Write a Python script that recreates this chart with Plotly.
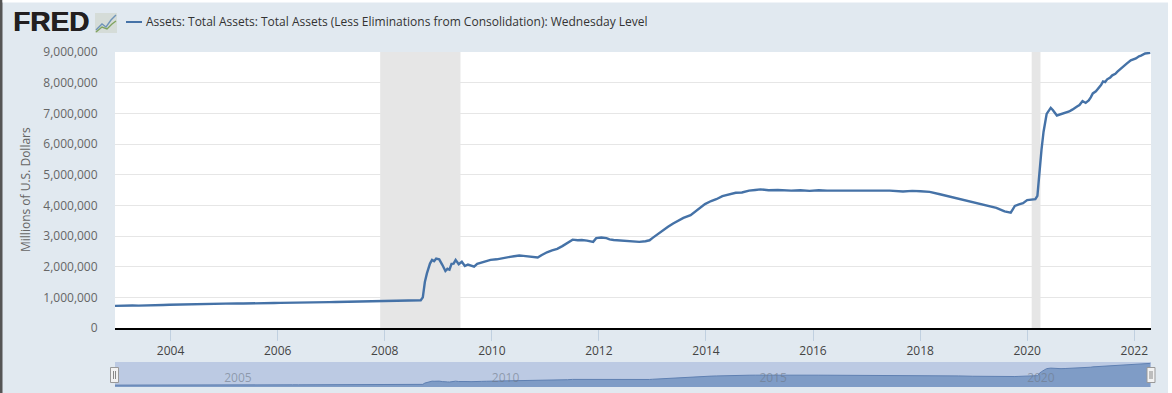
import plotly.graph_objects as go

dates = ["2002-12-18","2003-01-22","2003-03-05","2003-04-16","2003-05-28","2003-07-09","2003-08-20","2003-10-01","2003-11-12","2003-12-24",
"2004-02-04","2004-03-17","2004-04-28","2004-06-09","2004-07-21","2004-09-01","2004-10-13","2004-11-24",
"2005-01-05","2005-02-16","2005-03-30","2005-05-11","2005-06-22","2005-08-03","2005-09-14","2005-10-26","2005-12-07",
"2006-01-18","2006-03-01","2006-04-12","2006-05-24","2006-07-05","2006-08-16","2006-09-27","2006-11-08","2006-12-20",
"2007-01-31","2007-03-14","2007-04-25","2007-06-06","2007-07-18","2007-08-29","2007-10-10","2007-11-21",
"2008-01-02","2008-02-13","2008-03-26","2008-05-07","2008-06-18","2008-07-30","2008-09-03",
"2008-09-17","2008-10-01","2008-10-15","2008-11-05","2008-11-19","2008-12-03","2008-12-17","2009-01-07","2009-01-28",
"2009-02-18","2009-03-04","2009-03-18","2009-04-01","2009-04-15","2009-04-29","2009-05-20","2009-06-10","2009-07-01","2009-07-22",
"2009-08-12","2009-09-02","2009-09-23","2009-10-21","2009-11-25","2009-12-23","2010-02-03","2010-03-10","2010-04-07","2010-05-05","2010-06-02","2010-07-07","2010-08-04","2010-09-08","2010-10-06",
"2010-11-10","2010-12-08","2011-01-12","2011-02-16","2011-03-23","2011-04-27","2011-06-01","2011-07-06","2011-08-10","2011-09-07","2011-10-12","2011-11-23","2011-12-14",
"2012-01-18","2012-02-22","2012-03-14","2012-04-11","2012-05-23","2012-07-04","2012-08-08","2012-09-05","2012-10-03","2012-11-14","2012-12-12",
"2013-01-02","2013-02-06","2013-03-13","2013-04-17","2013-05-22","2013-06-26","2013-07-31","2013-09-18","2013-10-23","2013-12-25",
"2014-02-05","2014-03-12","2014-04-23","2014-06-04","2014-07-23","2014-09-03","2014-10-22","2014-12-03",
"2015-01-07","2015-03-04","2015-05-06","2015-08-05","2015-10-07","2015-12-09","2016-02-10","2016-04-06","2016-07-06","2016-09-07","2016-11-09",
"2017-01-11","2017-04-05","2017-06-07","2017-09-06","2017-11-08","2018-01-03","2018-03-07","2018-05-16","2018-07-18","2018-09-19","2018-12-26",
"2019-02-06","2019-04-03","2019-06-05","2019-07-31","2019-09-11","2019-09-25","2019-10-09","2019-11-06",
"2019-12-04","2020-01-01","2020-02-26","2020-03-11","2020-03-18","2020-03-25","2020-04-08","2020-04-22","2020-05-13",
"2020-06-10","2020-06-24","2020-07-22","2020-08-19","2020-09-16","2020-10-14","2020-11-04","2020-11-25","2020-12-09","2020-12-23","2021-01-13","2021-02-03",
"2021-02-24","2021-03-10","2021-03-24","2021-04-14","2021-05-05","2021-05-19","2021-06-02","2021-06-16","2021-06-30","2021-07-21","2021-08-04","2021-08-25","2021-09-08","2021-09-29","2021-10-20","2021-11-10","2021-12-08",
"2021-12-29","2022-01-12","2022-02-02","2022-02-16","2022-03-16","2022-04-20"]
assets = [720,728,726,735,731,742,746,741,750,756,
762,758,770,765,776,772,785,781,
790,795,802,798,806,803,812,809,816,
820,826,831,827,835,832,840,837,843,
846,851,848,856,853,861,866,871,
882,878,886,881,892,896,905,
1000,1500,1780,2100,2220,2180,2260,2240,2060,
1860,1930,1900,2090,2100,2220,2080,2160,2020,2070,
2030,2000,2090,2130,2190,2220,2240,2280,2310,2320,2340,2365,2350,2335,2310,
2300,2380,2470,2530,2580,2670,2770,2880,2860,2870,2850,2810,2930,
2950,2930,2890,2870,2860,2855,2840,2820,2810,2830,2860,
2940,3070,3200,3300,3410,3510,3590,3680,3800,4040,
4140,4200,4300,4360,4410,4420,4480,4500,
4520,4490,4500,4480,4490,4470,4490,4480,4480,4460,4470,
4460,4470,4480,4450,4470,4460,4440,4360,4290,4210,4090,
4040,3980,3920,3800,3760,3870,3980,4030,
4070,4170,4200,4310,4670,5250,5820,6400,6980,
7180,7110,6930,6970,7020,7060,7120,7170,7230,7270,7400,7340,
7420,7520,7650,7720,7840,7920,8040,8020,8110,8170,8240,8290,8360,8440,8510,8620,8730,
8760,8790,8860,8880,8950,8970]
assets = [v * 1000 for v in assets]

y_ticks = [0,1000000,2000000,3000000,4000000,5000000,6000000,7000000,8000000,9000000]
y_labels = ["0","1,000,000","2,000,000","3,000,000","4,000,000","5,000,000","6,000,000","7,000,000","8,000,000","9,000,000"]
x_ticks = ["%d-01-01" % y for y in range(2004, 2023, 2)]
x_labels = ["%d" % y for y in range(2004, 2023, 2)]
recessions = [("2007-12-01","2009-06-01"),("2020-02-01","2020-04-01")]
nav_ticks = ["2005-01-01","2010-01-01","2015-01-01","2020-01-01"]
nav_labels = ["2005","2010","2015","2020"]
series_name = "Assets: Total Assets: Total Assets (Less Eliminations from Consolidation): Wednesday Level"

W, H = 1172, 393
L, R, T, B = 115, 21, 52, 6
def px(x): return (x - L) / (W - L - R)
def py(y): return 1 - (y - T) / (H - T - B)
def rect(x0, y0, x1, y1, **kw):
    return dict(type="rect", xref="paper", yref="paper", x0=px(x0), x1=px(x1), y0=py(y0), y1=py(y1), **kw)
def line(x0, y0, x1, y1, color, width=1):
    return dict(type="line", xref="paper", yref="paper", x0=px(x0), x1=px(x1), y0=py(y0), y1=py(y1),
                line=dict(color=color, width=width))

FONT = "Open Sans"
fig = go.Figure()
fig.add_trace(go.Scatter(x=dates, y=assets, mode="lines", line=dict(color="#4572a7", width=2.4), hoverinfo="skip",
                         xaxis="x", yaxis="y", showlegend=False))
fig.add_trace(go.Scatter(x=dates, y=assets, mode="lines", fill="tozeroy", fillcolor="#7f9cc6",
                         line=dict(color="#5f80b2", width=1), hoverinfo="skip",
                         xaxis="x2", yaxis="y2", showlegend=False))
fig.add_trace(go.Scatter(x=nav_ticks, y=[3100000]*4, mode="text", text=nav_labels, textposition="middle right",
                         textfont=dict(family=FONT, size=12, color="rgba(110,120,135,0.6)"), hoverinfo="skip",
                         xaxis="x2", yaxis="y2", showlegend=False))

shapes = [
    rect(0, 0, 2.5, H, fillcolor="#555555", line_width=0, layer="below"),
    rect(2.5, 0, W, 2.5, fillcolor="#ffffff", line_width=0, layer="below"),
    rect(1168, 0, W, H, fillcolor="#ffffff", line_width=0, layer="below"),
    dict(type="rect", xref="x2 domain", yref="y2 domain", x0=0, x1=1, y0=0, y1=1,
         fillcolor="#bccae3", line_width=0, layer="below"),
    line(126, 22, 142, 22, "#4572a7", 2),
    rect(95, 13, 117, 33, fillcolor="#d5dcd8", line_width=0, layer="below"),
    dict(type="path", xref="paper", yref="paper", layer="above",
         path="M %f,%f L %f,%f L %f,%f L %f,%f L %f,%f" % (px(96),py(30),px(102),py(24),px(106),py(27),px(111),py(20),px(116),py(15)),
         line=dict(color="#6f94b8", width=1.4)),
    dict(type="path", xref="paper", yref="paper", layer="above",
         path="M %f,%f L %f,%f L %f,%f L %f,%f L %f,%f" % (px(96),py(32),px(102),py(27),px(107),py(29),px(112),py(24),px(116),py(21)),
         line=dict(color="#7fa35f", width=1.4)),
    rect(110.5, 367.5, 118.5, 382.5, fillcolor="#f2f2f2", line=dict(color="#999999", width=1), layer="above"),
    line(113.5, 371, 113.5, 379, "#888888"), line(115.5, 371, 115.5, 379, "#888888"),
    rect(1147, 367.5, 1155, 382.5, fillcolor="#f2f2f2", line=dict(color="#999999", width=1), layer="above"),
    line(1150, 371, 1150, 379, "#888888"), line(1152, 371, 1152, 379, "#888888"),
]
for a, b in recessions:
    shapes.append(dict(type="rect", xref="x", yref="y domain", x0=a, x1=b, y0=0, y1=1,
                       fillcolor="#e6e6e6", line_width=0, layer="below"))

annotations = [
    dict(text="<b>FRED</b>", xref="paper", yref="paper", x=px(11), y=py(22), xanchor="left", yanchor="middle",
         showarrow=False, font=dict(family="Liberation Sans", size=28, color="#231f20", shadow="0.6px 0 0 #231f20")),
    dict(text=series_name, xref="paper", yref="paper", x=px(144), y=py(22), xanchor="left", yanchor="middle",
         showarrow=False, font=dict(family=FONT, size=12, color="#333333")),
    dict(text="Millions of U.S. Dollars", xref="paper", yref="paper", x=px(25), y=py(190), textangle=-90,
         xanchor="center", yanchor="middle", showarrow=False, font=dict(family=FONT, size=12, color="#666666")),
]

fig.update_layout(
    width=W, height=H, autosize=False, margin=dict(l=L, r=R, t=T, b=B, pad=0, autoexpand=False),
    paper_bgcolor="#e1e9f0", plot_bgcolor="#ffffff", showlegend=False, shapes=shapes, annotations=annotations,
    xaxis=dict(type="date", domain=[0, 1], anchor="y", range=["2002-12-18", "2022-04-25"], tickvals=x_ticks, ticktext=x_labels,
               ticks="outside", ticklen=11, tickcolor="#c0d0e0", tickwidth=1, showgrid=False, zeroline=False,
               showline=True, linecolor="#000000", linewidth=2, automargin=False,
               tickfont=dict(family=FONT, size=12, color="#444444")),
    yaxis=dict(domain=[py(328), 1], anchor="x", range=[0, 9000000], tickvals=y_ticks, ticktext=y_labels,
               ticks="outside", ticklen=14, tickcolor="rgba(0,0,0,0)", gridcolor="#e6e6e6", gridwidth=1, automargin=False,
               zeroline=False, showline=False, tickfont=dict(family=FONT, size=12, color="#666666")),
    xaxis2=dict(type="date", domain=[0, 1], anchor="y2", range=["2002-12-18", "2022-04-25"], visible=False),
    yaxis2=dict(domain=[0, py(362)], anchor="x2", range=[0, 9500000], visible=False),
)
fig.write_html("out.html", config=dict(displayModeBar=False), default_width="1172px", default_height="393px",
               post_script="document.body.style.margin='0';")
